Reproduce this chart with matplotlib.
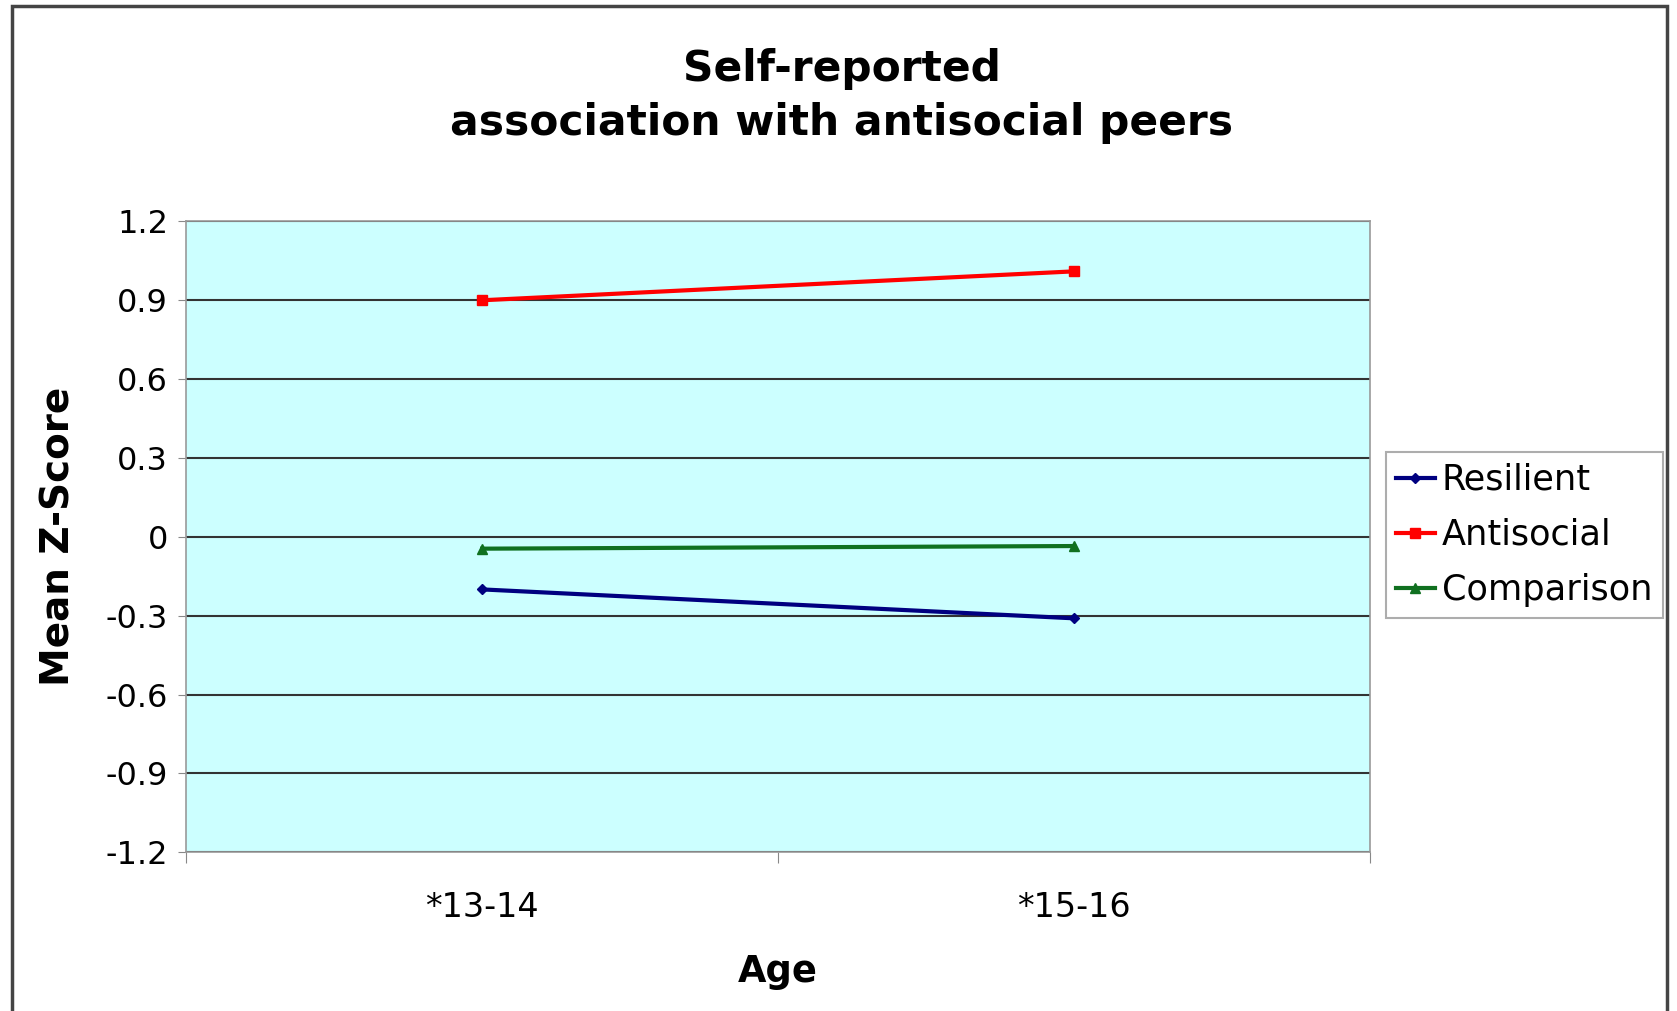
import matplotlib.pyplot as plt
from matplotlib.patches import Rectangle

# age groups and mean z-scores per group
ages = ["*13-14", "*15-16"]
resilient = [-0.20, -0.31]
antisocial = [0.90, 1.01]
comparison = [-0.045, -0.035]

y_ticks = [-1.2, -0.9, -0.6, -0.3, 0, 0.3, 0.6, 0.9, 1.2]
y_labels = ["-1.2", "-0.9", "-0.6", "-0.3", "0", "0.3", "0.6", "0.9", "1.2"]

plt.rcParams['font.family'] = ['DejaVu Sans']

fig = plt.figure(figsize=(16.77, 10.11), dpi=100)
ax = fig.add_axes([0.111, 0.157, 0.706, 0.624])

# outer chart border
fig.patches.append(Rectangle((0.0072, -0.05), 0.9870, 1.044, transform=fig.transFigure,
                             fill=False, edgecolor="#444444", linewidth=2.5))

x = [0.5, 1.5]
ax.plot(x, resilient, color="#000080", marker="D", markersize=5, linewidth=3, label="Resilient")
ax.plot(x, antisocial, color="#FF0000", marker="s", markersize=7, linewidth=3, label="Antisocial")
ax.plot(x, comparison, color="#107020", marker="^", markersize=7, linewidth=3, label="Comparison")

ax.set_facecolor("#CCFFFF")
ax.set_xlim(0, 2)
ax.set_ylim(-1.2, 1.2)
ax.set_yticks(y_ticks)
ax.set_yticklabels(y_labels)
ax.yaxis.grid(True, color="#333333", linewidth=1.5)
ax.set_axisbelow(True)

ax.set_xticks([0, 1, 2])
ax.set_xticklabels([])
ax.set_xticks(x, minor=True)
ax.set_xticklabels(ages, minor=True)
ax.tick_params(axis="x", which="minor", length=0, pad=28, labelsize=24)
ax.tick_params(axis="x", which="major", length=8, color="#888888", direction="out")
ax.tick_params(axis="y", length=6, color="#888888", labelsize=23, pad=7)

for s in ax.spines.values():
    s.set_color("#999999")
    s.set_linewidth(1.2)

ax.set_xlabel("Age", fontsize=26.5, fontweight="bold", labelpad=21)
ax.set_ylabel("Mean Z-Score", fontsize=28, fontweight="bold", labelpad=20)

fig.text(0.502, 0.905, "Self-reported\nassociation with antisocial peers", ha="center", va="center",
         fontsize=30.5, fontweight="bold", linespacing=1.37)

leg = ax.legend(loc="center left", bbox_to_anchor=(1.013, 0.503), fontsize=25.3, frameon=True,
                fancybox=False, edgecolor="#999999", handlelength=1.1, handletextpad=0.2,
                borderaxespad=0, labelspacing=0.6, borderpad=0.3)
leg.get_frame().set_linewidth(1.5)

fig.savefig("out.png", dpi=100)
